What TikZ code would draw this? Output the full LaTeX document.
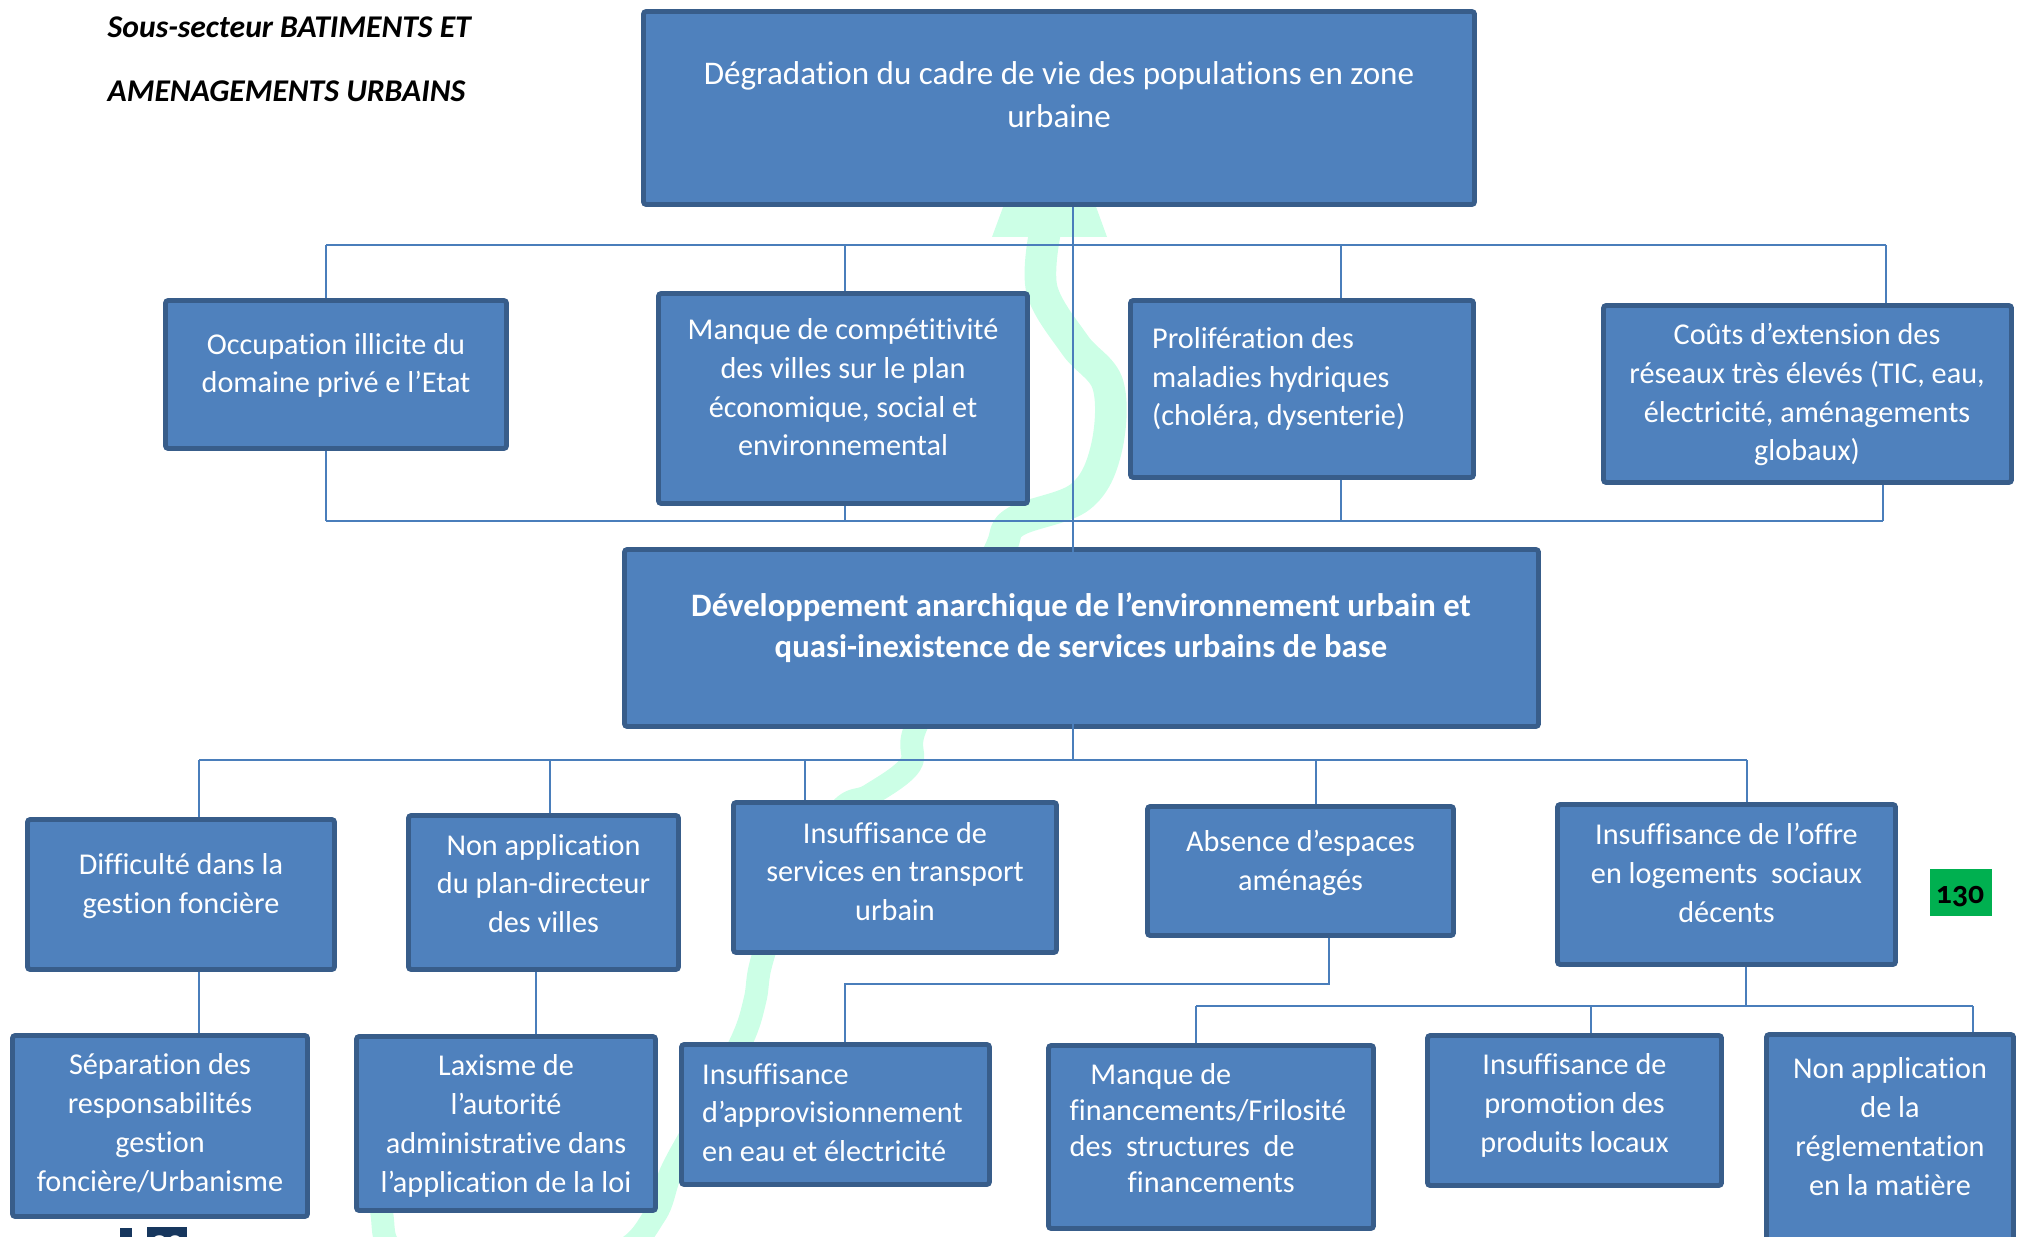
\documentclass[tikz,border=0pt]{standalone}
\usepackage{fontspec}
\setmainfont{Carlito}[Ligatures=NoCommon]
\newfontfamily\oldstylefig{Carlito}[Numbers=OldStyle]
\usetikzlibrary{fit}
\definecolor{boxfill}{HTML}{4F81BD}
\definecolor{boxline}{HTML}{385D8A}
\definecolor{linkblue}{HTML}{4A7EBB}
\definecolor{mint}{HTML}{CCFFE6}
\definecolor{pagegreen}{HTML}{00B050}
\definecolor{navy}{HTML}{17375E}
\tikzset{
  box/.style={draw=boxline, fill=boxfill, line width=1.4pt, rounded corners=0.8pt, inner sep=0pt},
  conn/.style={draw=linkblue, line width=0.6pt},
  boxtext/.style={text=white, align=center, inner sep=0pt, anchor=base,
    font=\fontsize{8.6}{11}\selectfont},
  lefttext/.style={boxtext, align=left, anchor=base west},
  flow/.style={draw=mint, line cap=round, line join=round},
}
\begin{document}
\begin{tikzpicture}[x=0.01cm,y=-0.01cm]
\useasboundingbox (0,0) rectangle (2022,1237);
\clip (0,0) rectangle (2022,1237);

% pale background arrow running up the whole tree
\fill[mint] (992,237) -- (1107,237) -- (1050,80) -- cycle;
\draw[flow, line width=9pt] plot[smooth, tension=0.6] coordinates {
  (1045,232) (1042,290) (1075,345) (1108,385) (1106,450) (1080,497)
  (1015,522) (1000,550) (960,640)};
\draw[flow, line width=6.5pt] plot[smooth, tension=0.6] coordinates {
  (960,640) (915,729) (910,765) (870,795) (840,810) (790,880) (762,960)
  (755,1000) (742,1040) (705,1110) (672,1170) (655,1215) (615,1255)
  (500,1290) (400,1255) (382,1215) (385,1150)};

% heading (node anchored on the baseline of its last line)
\node[anchor=base west, inner sep=0pt, align=left,
  font=\bfseries\itshape\fontsize{9}{18.2}\selectfont] (heading) at (107,102)
  {Sous-secteur BATIMENTS ET\\AMENAGEMENTS URBAINS};

% boxes
\node[box, fit={(643.5,11.5) (1474.5,204.5)}] (degr) {};
\node[box, fit={(165.5,300.5) (506.5,448.5)}] (occ) {};
\node[box, fit={(658.5,293.5) (1027.5,503.5)}] (comp) {};
\node[box, fit={(1130.5,300.5) (1473.5,477.5)}] (malad) {};
\node[box, fit={(1603.5,305.5) (2011.5,482.5)}] (couts) {};
\node[box, fit={(624.5,549.5) (1538.5,726.5)}] (dev) {};
\node[box, fit={(27.5,819.5) (334.5,969.5)}] (diff) {};
\node[box, fit={(408.5,815.5) (678.5,969.5)}] (plan) {};
\node[box, fit={(733.5,802.5) (1056.5,952.5)}] (transp) {};
\node[box, fit={(1147.5,806.5) (1453.5,935.5)}] (esp) {};
\node[box, fit={(1557.5,804.5) (1895.5,964.5)}] (logt) {};
\node[box, fit={(12.5,1035.5) (307.5,1216.5)}] (sep) {};
\node[box, fit={(356.5,1036.5) (655.5,1210.5)}] (lax) {};
\node[box, fit={(681.5,1044.5) (989.5,1184.5)}] (approv) {};
\node[box, fit={(1048.5,1045.5) (1373.5,1228.5)}] (fin) {};
\node[box, fit={(1427.5,1035.5) (1721.5,1185.5)}] (promo) {};
\node[box, fit={(1766.5,1034.5) (2013.5,1270)}] (regl) {};

% connectors: upper level
\coordinate (spine) at (1073,0);
\coordinate (tA) at (326,245);
\coordinate (tB) at (845,245);
\coordinate (tC) at (1341,245);
\coordinate (tD) at (1886,245);
\draw[conn] (tA) -- (tD);
\draw[conn] (tA) -- (tA |- occ.north);
\draw[conn] (tB) -- (tB |- comp.north);
\draw[conn] (tC) -- (tC |- malad.north);
\draw[conn] (tD) -- (tD |- couts.north);
\coordinate (uA) at (326,521);
\coordinate (uB) at (845,521);
\coordinate (uC) at (1341,521);
\coordinate (uD) at (1883,521);
\draw[conn] (uA) -- (uD);
\draw[conn] (occ.south -| uA) -- (uA);
\draw[conn] (comp.south -| uB) -- (uB);
\draw[conn] (malad.south -| uC) -- (uC);
\draw[conn] (couts.south -| uD) -- (uD);
\draw[conn] (degr.south -| spine) -- ([yshift=-1.5pt]dev.north -| spine);

% connectors: lower level
\coordinate (low) at (1073,760);
\coordinate (lA) at (199,760);
\coordinate (lB) at (550,760);
\coordinate (lC) at (805,760);
\coordinate (lD) at (1316,760);
\coordinate (lE) at (1747,760);
\draw[conn] ([yshift=1.5pt]dev.south -| spine) -- (low);
\draw[conn] (lA) -- (lE);
\draw[conn] (lA) -- (lA |- diff.north);
\draw[conn] (lB) -- (lB |- plan.north);
\draw[conn] (lC) -- (lC |- transp.north);
\draw[conn] (lD) -- (lD |- esp.north);
\draw[conn] (lE) -- (lE |- logt.north);
\coordinate (dj) at (199,0);
\coordinate (fk) at (536,0);
\draw[conn] (diff.south -| dj) -- (sep.north -| dj);
\draw[conn] (plan.south -| fk) -- (lax.north -| fk);
\coordinate (hl1) at (1329,984);
\coordinate (hl2) at (845,984);
\draw[conn] (esp.south -| hl1) -- (hl1) -- (hl2) -- (approv.north -| hl2);
\coordinate (ib) at (1746,1006);
\coordinate (ibL) at (1196,1006);
\coordinate (ibM) at (1591,1006);
\coordinate (ibR) at (1973,1006);
\draw[conn] (logt.south -| ib) -- (ib);
\draw[conn] (ibL) -- (ibR);
\draw[conn] (ibL) -- (ibL |- fin.north);
\draw[conn] (ibM) -- (ibM |- promo.north);
\draw[conn] (ibR) -- (ibR |- regl.north);

% box texts, each placed by the baseline of its last line
\node[boxtext, font=\fontsize{9.4}{12.1}\selectfont] (degr-t) at (1059,127.5)
  {Dégradation du cadre de vie des populations en zone\\urbaine};
\node[boxtext] (occ-t) at (336,393) {Occupation illicite du\\domaine privé e l’Etat};
\node[boxtext] (comp-t) at (843,456)
  {Manque de compétitivité\\des villes sur le plan\\économique, social et\\environnemental};
\node[lefttext] (malad-t) at (1151.5,426)
  {Prolifération des\\maladies hydriques\\(choléra, dysenterie)};
\node[boxtext] (couts-t) at (1807,461)
  {Coûts d’extension des\\réseaux très élevés (TIC, eau,\\électricité, aménagements\\globaux)};
\node[boxtext, font=\bfseries\fontsize{9.3}{11.7}\selectfont] (dev-t) at (1081,657.6)
  {Développement anarchique de l’environnement urbain et\\quasi-inexistence de services urbains de base};
\node[boxtext] (diff-t) at (181,913) {Difficulté dans la\\gestion foncière};
\node[boxtext] (plan-t) at (543.5,932.5) {Non application\\du plan-directeur\\des villes};
\node[boxtext] (transp-t) at (895,920.5) {Insuffisance de\\services en transport\\urbain};
\node[boxtext] (esp-t) at (1300.5,890) {Absence d’espaces\\aménagés};
\node[boxtext] (logt-t) at (1726.5,922)
  {Insuffisance de l’offre\\en logements\ \ sociaux\\décents};
\node[boxtext] (sep-t) at (160,1191)
  {Séparation des\\responsabilités\\gestion\\foncière/Urbanisme};
\node[boxtext] (lax-t) at (506,1192)
  {Laxisme de\\l’autorité\\administrative dans\\l’application de la loi};
\node[lefttext] (approv-t) at (701.5,1161.5)
  {Insuffisance\\d’approvisionnement\\en eau et électricité};
\node[lefttext, font=\fontsize{8.6}{10.15}\selectfont] (fin-t) at (1069,1192)
  {\hspace*{5.9pt}Manque de\\financements/Frilosité\\des\ \ structures\ \ de\\\hspace*{16.5pt}financements};
\node[boxtext] (promo-t) at (1574.5,1152)
  {Insuffisance de\\promotion des\\produits locaux};
\node[boxtext] (regl-t) at (1890,1195)
  {Non application\\de la\\réglementation\\en la matière};

% page number tag
\node[fill=pagegreen, inner sep=0pt, fit={(1930,869) (1992,916)}] (pg) {};
\node[anchor=base, inner sep=0pt, font=\oldstylefig\bfseries\fontsize{9}{10}\selectfont]
  (pg-t) at (1960,903) {130};

% footer mark of the next page, cut by the page edge
\node[fill=navy, inner sep=0pt, fit={(120,1228) (132,1245)}] (footbar) {};
\node[fill=navy, inner sep=0pt, fit={(147,1227) (187,1245)}] (footbox) {};
\node[anchor=base, inner sep=0pt, text=white, font=\bfseries\fontsize{9}{10}\selectfont]
  (foot-t) at (167,1256) {30};
\end{tikzpicture}
\end{document}
